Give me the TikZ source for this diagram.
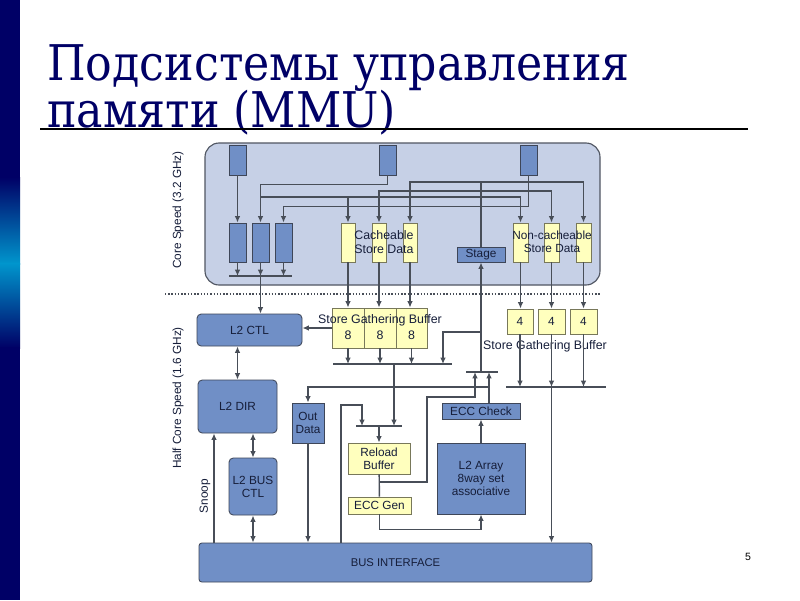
\documentclass[tikz,border=0pt]{standalone}
\usepackage{fontspec}
\setsansfont{Liberation Sans}
\newfontfamily\titlefont{DejaVu Serif Condensed}
\usetikzlibrary{positioning, calc, arrows.meta}
\definecolor{navy}{RGB}{0,0,102}
\definecolor{barlight}{RGB}{0,150,205}
\definecolor{corefill}{RGB}{198,208,230}
\definecolor{coreline}{RGB}{80,86,98}
\definecolor{blockblue}{RGB}{112,143,198}
\definecolor{blockline}{RGB}{62,70,88}
\definecolor{storeyellow}{RGB}{255,255,190}
\definecolor{storeline}{RGB}{120,120,90}
\definecolor{wirecol}{RGB}{72,78,88}
\definecolor{labelcol}{RGB}{22,30,58}
\begin{document}
\begin{tikzpicture}[x=0.025cm, y=-0.025cm,
  wh/.style 2 args={minimum width=#1*0.025cm, minimum height=#2*0.025cm},
  lbl/.style={font=\sffamily\fontsize{8.4}{9.2}\selectfont, text=labelcol, align=center, inner sep=0pt},
  bbox/.style={lbl, draw=blockline, fill=blockblue, line width=0.6pt},
  ybox/.style={lbl, draw=storeline, fill=storeyellow, line width=0.6pt},
  wire/.style={draw=wirecol, line width=1pt},
  arr/.style={wire, -{Latex[length=4.6pt,width=4pt]}},
  darr/.style={wire, {Latex[length=4.6pt,width=4pt]}-{Latex[length=4.6pt,width=4pt]}}]
  \fill[white] (0,0) rectangle (800,600);
  \useasboundingbox (0,0) rectangle (800,600);
  \fill[navy] (0,0) rectangle (20,178);
  \shade[top color=navy, bottom color=barlight] (0,177) rectangle (20,264);
  \shade[top color=barlight, bottom color=navy] (0,263) rectangle (20,348);
  \fill[navy] (0,347) rectangle (20,600);
  \node[anchor=base west, inner sep=0pt, text=navy, font=\titlefont\fontsize{35}{40}\selectfont] (title1) at (47,80) {Подсистемы управления};
  \node[anchor=base west, inner sep=0pt, text=navy, font=\titlefont\fontsize{35}{40}\selectfont] (title2) at (47,127) {памяти (MMU)};
  \draw[line width=1.2pt] (40,129) -- (748,129);
  \node[font=\sffamily\fontsize{7.5}{9}\selectfont] (pagenum) at (748,557) {5};

  \node[draw=coreline, fill=corefill, rounded corners=10pt, line width=0.8pt, wh={395}{142}] (core) at (402.5,214) {};
  \draw[wirecol, line width=0.9pt, dash pattern=on 1pt off 1.3pt] (165,294) -- (600,294);
  \node[lbl, rotate=90] (corespd) at (178,210) {Core Speed (3.2 GHz)};
  \node[lbl, rotate=90] (halfspd) at (178,398) {Half Core Speed (1.6 GHz)};
  \node[lbl, rotate=90] (snoop) at (205,496) {Snoop};

  \node[bbox, wh={17}{30}] (srcA) at (237.5,160) {};
  \node[bbox, wh={17}{30}] (srcB) at (387.5,160) {};
  \node[bbox, wh={17}{30}] (srcC) at (528.5,160) {};
  \node[bbox, wh={17}{39}] (q1) at (237.5,242.5) {};
  \node[bbox, wh={17}{39}] (q2) at (260.5,242.5) {};
  \node[bbox, wh={17}{39}] (q3) at (283.5,242.5) {};
  \node[ybox, wh={14}{39}] (c1) at (348,242.5) {};
  \node[ybox, wh={14}{39}] (c2) at (379,242.5) {};
  \node[ybox, wh={14}{39}] (c3) at (410,242.5) {};
  \node[ybox, wh={15}{39}] (n1) at (520.5,242.5) {};
  \node[ybox, wh={15}{39}] (n2) at (551.5,242.5) {};
  \node[ybox, wh={15}{39}] (n3) at (583.5,242.5) {};
  \node[lbl, font=\sffamily\fontsize{8.8}{9.4}\selectfont] (cachetxt) at (384,242) {Cacheable\\Store Data};
  \node[lbl, font=\sffamily\fontsize{8.4}{9.4}\selectfont] (nocachetxt) at (552,242) {Non-cacheable\\Store Data};
  \node[bbox, wh={48}{15}] (stage) at (481,254.5) {Stage};

  \node[ybox, wh={32}{40}] (sgb1) at (348,328) {};
  \node[ybox, wh={32}{40}] (sgb2) at (380,328) {};
  \node[ybox, wh={31}{40}] (sgb3) at (411.5,328) {};
  \foreach \s in {sgb1,sgb2,sgb3}
    \node[lbl, font=\sffamily\fontsize{8.8}{9}\selectfont] at ([yshift=-0.17cm]\s.center) {8};
  \node[lbl, font=\sffamily\fontsize{8.8}{9}\selectfont] (sgbtxt) at (380,320) {Store Gathering Buffer};
  \node[ybox, wh={26}{25}] (f1) at (520,321.5) {4};
  \node[ybox, wh={27}{25}] (f2) at (551.5,321.5) {4};
  \node[ybox, wh={27}{25}] (f3) at (583.5,321.5) {4};
  \node[lbl, font=\sffamily\fontsize{8.8}{9}\selectfont] (fgbtxt) at (545,346) {Store Gathering Buffer};

  \node[bbox, rounded corners=3pt, wh={105}{32}] (l2ctl) at (249.5,330) {L2 CTL};
  \node[bbox, rounded corners=3pt, wh={79}{53}] (l2dir) at (237.5,406.5) {L2 DIR};
  \node[bbox, rounded corners=3pt, wh={48}{57}] (l2bus) at (253,486.5) {L2 BUS\\CTL};
  \node[bbox, wh={32}{40}] (outdata) at (308,423) {Out\\Data};
  \node[ybox, wh={62}{31}] (reload) at (379,458.5) {Reload\\Buffer};
  \node[ybox, wh={63}{17}] (eccgen) at (379.5,505.5) {ECC Gen};
  \node[bbox, wh={78}{16}] (eccchk) at (481,411) {ECC Check};
  \node[bbox, wh={88}{71}] (l2arr) at (481,478.5) {L2 Array\\8way set\\associative};
  \node[bbox, rounded corners=2pt, font=\sffamily\fontsize{8}{9}\selectfont, wh={393}{39}] (bus) at (395.5,562.5) {BUS INTERFACE};

  \coordinate (qbarL) at (229,276); \coordinate (qbarR) at (292,276);
  \coordinate (sbarL) at (333,364); \coordinate (sbarR) at (452,364);
  \coordinate (rbarL) at (356,426); \coordinate (rbarR) at (402,426);
  \coordinate (stbarL) at (466,372); \coordinate (stbarR) at (498,372);
  \coordinate (fbarL) at (506,387); \coordinate (fbarR) at (606,387);
  \coordinate (jB) at (260.5,197);
  \coordinate (jC) at (528.5,191);
  \coordinate (jS) at (481,182);
  \coordinate (jT) at (481,332);
  \coordinate (sbarIn) at (443,364);
  \coordinate (sbarOut) at (394,364);
  \coordinate (rturn) at (341,405);
  \coordinate (rin) at (362,426);
  \coordinate (jR) at (379,482);
  \coordinate (stIn) at (475,372);
  \coordinate (eo) at (489,403);
  \coordinate (jE) at (489,387);
  \coordinate (snp) at (214,543);

  \draw[arr] (srcA) -- (q1);
  \draw[arr] (srcB.south) -- ++(0,9) -| (q2.north);
  \draw[arr] (jB) -| (c1.north);
  \draw[arr] (jB) -| (n1.north);
  \draw[arr] (srcC.south) -- ++(0,31) -| (q3.north);
  \draw[arr] (jC) -| (c2.north);
  \draw[arr] (jC) -| (n2.north);
  \draw[arr] (stage.north) -- (jS) -| (c3.north);
  \draw[arr] (jS) -| (n3.north);

  \foreach \q in {q1,q2,q3}
    \draw[arr] (\q.south) -- (\q.south |- qbarL);
  \draw[wire] (qbarL) -- (qbarR);
  \draw[arr] (q2.south |- qbarL) -- (q2.south |- l2ctl.north);

  \foreach \c/\s in {c1/sgb1, c2/sgb2, c3/sgb3}
    \draw[arr] (\c.south) -- (\c.south |- \s.north);
  \foreach \n/\f in {n1/f1, n2/f2, n3/f3}
    \draw[arr] (\n.south) -- (\n.south |- \f.north);
  \foreach \s in {sgb1,sgb2,sgb3}
    \draw[arr] (\s.south) -- (\s.south |- sbarL);
  \draw[wire] (sbarL) -- (sbarR);
  \foreach \f in {f1,f2,f3}
    \draw[arr] (\f.south) -- (\f.south |- fbarL);
  \draw[wire] (fbarL) -- (fbarR);
  \draw[arr] (f2.south |- fbarL) -- (f2.south |- bus.north);
  \draw[arr] (sgb1.west) -- (sgb1.west -| l2ctl.east);

  \draw[wire] (stbarL) -- (stbarR);
  \draw[arr] (stage.south |- stbarL) -- (stage.south);
  \draw[arr] (jT) -| (sbarIn);
  \draw[arr] (sbarOut) -- (sbarOut |- rbarL);
  \draw[wire] (rbarL) -- (rbarR);
  \draw[arr] (reload.north |- rbarL) -- (reload.north);
  \draw[arr] (bus.north -| rturn) -- (rturn) -| (rin);
  \draw[wire] (reload) -- (eccgen);
  \draw[arr] (jR) -| ++(48,-85) -| (stIn);
  \draw[arr] (eccgen.south) -- ++(0,15) -| (l2arr.south);
  \draw[arr] (l2arr) -- (eccchk);
  \draw[arr] (eo) -- (eo |- stbarL);
  \draw[arr] (jE) -| (outdata.north);
  \draw[arr] (outdata.south) -- (outdata.south |- bus.north);
  \draw[darr] (l2dir.north) -- (l2dir.north |- l2ctl.south);
  \draw[darr] (l2bus.north) -- (l2bus.north |- l2dir.south);
  \draw[darr] (l2bus.south) -- (l2bus.south |- bus.north);
  \draw[arr] (snp) -- (snp |- l2dir.south);
\end{tikzpicture}
\end{document}
